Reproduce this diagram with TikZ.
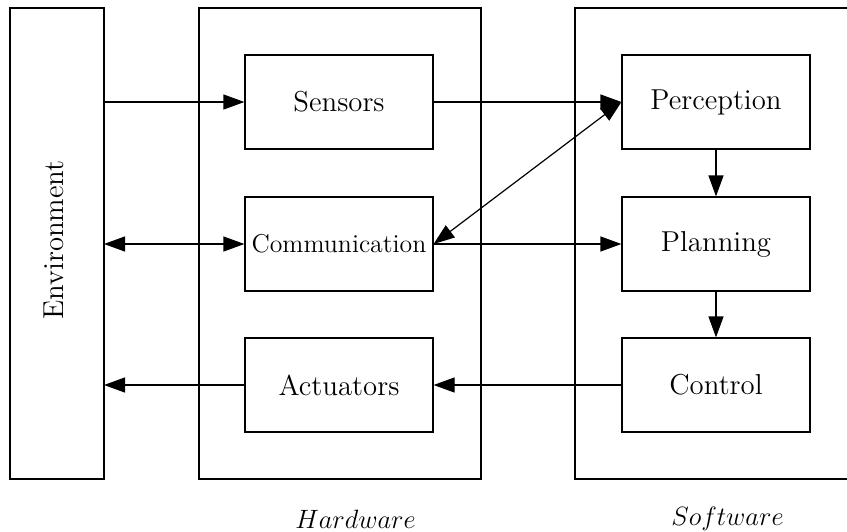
\RequirePackage{fix-cm}
\documentclass[tikz,border=0pt]{standalone}
\usetikzlibrary{arrows.meta}
\begin{document}
\begin{tikzpicture}[x=0.5pt,y=-0.5pt,
  box/.style={draw, line width=0.6pt, minimum width=94pt, minimum height=47pt, inner sep=0pt, font=\fontsize{14.4}{17}\selectfont},
  frame/.style={draw, line width=0.6pt},
  arr/.style={line width=0.6pt, -{Triangle[length=10.5pt,width=7.5pt]}},
  barr/.style={line width=0.6pt, {Triangle[length=10.5pt,width=7.5pt]}-{Triangle[length=10.5pt,width=7.5pt]}},
  captext/.style={font=\fontsize{13.25}{16}\selectfont}]
\useasboundingbox (0,0) rectangle (847,531);
\clip (0,0) rectangle (847,531);
% frames
\draw[frame] (10,8) rectangle (104,479);
\node[rotate=90, font=\fontsize{14.4}{17}\selectfont] (envtxt) at (54,240) {Environment};
\coordinate (envS) at (104,102);
\coordinate (envC) at (104,244);
\coordinate (envA) at (104,385);
\draw[frame] (199,8) rectangle (481,479);
\draw[frame] (575,8) rectangle (870,479);
% nodes
\node[box] (sens) at (339,102) {Sensors};
\node[box, font=\fontsize{12.9}{15}\selectfont] (comm) at (339,244) {Communication};
\node[box] (act) at (339,385) {Actuators};
\node[box] (perc) at (716,102) {Perception};
\node[box] (plan) at (716,244) {Planning};
\node[box] (ctrl) at (716,385) {Control};
\node[captext] (hw) at (355.5,519) {$Hardware$};
\node[captext] (sw) at (727.5,519) {$Software$};
% connectors
\draw[arr] (envS) -- (sens.west);
\draw[arr] (sens.east) -- (perc.west);
\draw[barr] (envC) -- (comm.west);
\draw[arr] (comm.east) -- (plan.west);
\draw[barr] (comm.east) -- (perc.west);
\draw[arr] (perc.south) -- (plan.north);
\draw[arr] (plan.south) -- (ctrl.north);
\draw[arr] (ctrl.west) -- (act.east);
\draw[arr] (act.west) -- (envA);
\end{tikzpicture}
\end{document}
